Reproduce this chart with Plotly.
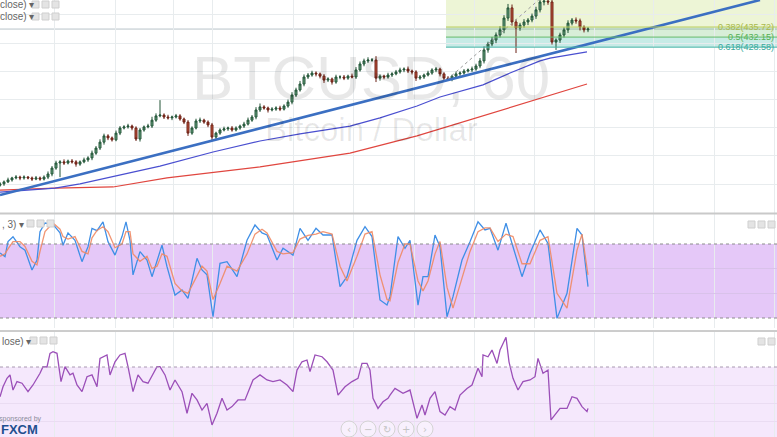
import plotly.graph_objects as go

W, H = 777, 437

# ---------------- DATA ----------------
# hourly BTCUSD candles (bar index = 1 hour step)
closes = [
    380.1, 380.8, 381.5, 382.2, 382.5, 382.2, 382.5, 382.2, 381.8, 382.2,
    381.8, 382.5, 383.6, 385.7, 387.5, 387.9, 387.5, 388.2, 387.9, 387.1,
    387.9, 388.6, 389.3, 391.0, 392.8, 394.9, 397.1, 396.4, 395.7, 398.1,
    399.9, 400.3, 400.6, 399.9, 396.0, 399.2, 400.3, 400.6, 402.7, 404.2,
    404.5, 403.8, 403.5, 403.8, 404.2, 403.1, 402.0, 398.1, 399.9, 402.4,
    402.7, 402.0, 401.0, 396.7, 398.1, 399.2, 399.6, 399.9, 399.2, 399.9,
    400.6, 401.3, 402.7, 403.8, 406.3, 407.4, 407.0, 406.3, 406.6, 407.0,
    406.6, 407.7, 409.1, 411.6, 413.4, 415.5, 418.0, 418.7, 419.4, 419.1,
    418.3, 416.9, 417.3, 416.2, 418.0, 418.0, 417.6, 418.3, 418.0, 420.5,
    422.6, 423.7, 424.0, 424.0, 417.6, 418.3, 418.0, 418.7, 419.1, 419.8,
    420.5, 420.8, 420.1, 419.8, 417.6, 418.0, 418.7, 419.4, 420.5, 420.8,
    419.1, 417.6, 417.3, 418.3, 419.1, 419.4, 420.1, 420.5, 420.8, 421.9,
    423.7, 427.6, 429.7, 431.1, 432.9, 434.7, 438.9, 442.5, 437.5, 435.4,
    436.4, 437.5, 438.2, 439.6, 441.8, 444.6, 444.9, 444.6, 430.4, 431.1,
    432.9, 434.7, 437.1, 438.2, 437.9, 435.7, 434.7, 435.0,
]
first_open = 379.6
wick_hi = [
    0.6, 0.5, 0.8, 0.4, 0.7, 0.5, 0.6, 0.4, 0.5, 0.7,
    0.5, 0.6, 0.9, 0.7, 0.8, 0.6, 0.9, 0.5, 0.7, 0.6,
    0.5, 0.8, 0.6, 0.9, 0.7, 1.0, 0.8, 0.6, 0.5, 0.9,
    0.7, 0.6, 0.8, 0.5, 0.6, 0.7, 0.5, 0.8, 1.2, 0.9,
    5.3, 0.6, 0.8, 0.5, 0.7, 0.6, 0.5, 0.7, 0.6, 0.8,
    0.9, 0.5, 0.6, 0.7, 0.5, 0.6, 0.8, 0.5, 0.7, 0.6,
    0.5, 0.8, 0.9, 0.7, 1.0, 1.2, 0.6, 0.5, 0.7, 0.6,
    0.8, 0.6, 0.9, 1.0, 0.8, 1.1, 0.9, 0.7, 0.8, 0.6,
    0.5, 0.7, 0.6, 0.5, 0.8, 0.6, 0.7, 0.5, 0.9, 1.0,
    0.9, 0.8, 1.0, 0.7, 1.4, 0.6, 0.5, 0.8, 0.6, 0.7,
    0.8, 0.6, 0.9, 0.5, 0.6, 0.7, 0.5, 0.8, 0.6, 0.7,
    0.5, 0.6, 0.7, 0.5, 0.8, 0.6, 0.7, 0.5, 0.9, 0.8,
    1.0, 1.2, 0.8, 1.1, 0.9, 1.3, 1.0, 1.4, 1.2, 0.9,
    0.8, 1.0, 0.7, 0.9, 1.1, 1.0, 0.8, 2.4, 0.9, 0.6,
    0.8, 0.9, 1.0, 0.7, 0.9, 0.8, 0.6, 0.7,
]
wick_lo = [
    0.5, 0.7, 0.4, 0.6, 0.5, 0.8, 0.6, 0.5, 0.7, 0.4,
    0.6, 0.5, 0.7, 0.8, 0.6, 5.0, 0.7, 0.5, 0.6, 0.9,
    0.6, 0.5, 0.7, 0.8, 0.6, 0.7, 0.9, 0.8, 0.6, 0.5,
    0.7, 0.5, 0.6, 0.8, 0.7, 0.9, 0.6, 0.5, 0.7, 0.6,
    0.5, 0.7, 0.6, 0.8, 0.5, 0.6, 0.7, 1.0, 0.6, 0.5,
    0.7, 0.6, 0.8, 1.4, 0.9, 0.6, 0.5, 0.7, 0.6, 0.5,
    0.6, 0.7, 0.5, 0.6, 0.8, 0.7, 0.6, 0.9, 0.5, 0.6,
    0.7, 0.5, 0.6, 0.8, 0.7, 0.6, 0.8, 0.7, 0.6, 0.9,
    0.8, 1.0, 0.7, 0.9, 0.6, 0.8, 0.7, 0.6, 0.5, 0.7,
    0.6, 0.8, 0.7, 0.6, 1.4, 0.9, 0.8, 0.6, 0.7, 0.5,
    0.6, 0.8, 0.7, 0.9, 1.0, 0.6, 0.7, 0.5, 0.6, 0.8,
    0.9, 0.7, 0.6, 0.8, 0.5, 0.7, 0.6, 0.5, 0.7, 0.6,
    0.8, 0.9, 1.0, 0.8, 1.1, 0.9, 1.2, 1.0, 1.3, 8.9,
    1.0, 0.9, 1.1, 0.8, 1.0, 0.9, 1.2, 1.0, 0.9, 2.8,
    1.0, 0.9, 1.1, 0.8, 1.0, 1.2, 0.9, 0.8,
]

# moving averages (sampled points, bar index)
ma100_bar = [0, 7.5, 13.75, 20, 27.5, 40, 53.25, 65, 75, 87.5, 95, 104.25,
             110, 115, 120.75, 127.5, 135, 137.5, 146.75]
ma100_val = [377.2, 377.9, 378.6, 380.1, 382.5, 386.4, 391.4, 395.3, 397.8,
             400.6, 403.5, 407.7, 410.9, 413.0, 415.2, 419.4, 423.7, 424.7, 426.9]
ma200_bar = [0, 13.75, 28.25, 41.75, 65, 87.5, 104.25, 110, 120.75, 127.5,
             133.25, 146.75]
ma200_val = [377.9, 378.6, 379.0, 382.2, 386.1, 391.0, 397.1, 399.6, 404.2,
             407.4, 409.8, 415.5]

# trend line drawing (two anchors)
trend_bar = [0, 190]
trend_val = [376.15, 445.3]

# fibonacci retracement drawing
fib_low_bar, fib_high_bar = 111.75, 136.25
fib_low, fib_high = 417.03, 447.28
fib_ratios = [0.382, 0.5, 0.618]
fib_prices = [435.72, 432.15, 428.58]
fib_labels = ["0.382(435.72)", "0.5(432.15)", "0.618(428.58)"]
hline_price = 435.0

# stochastic (14, 3, 3)
stoch_bar = [
    0, 1.25, 2, 3.25, 5, 6.25, 8, 9.25, 10, 11.25,
    13.25, 15, 15.75, 17, 18.75, 20.5, 22, 23, 24.25, 25.75,
    27, 28.75, 30.5, 31.5, 32.5, 33.25, 35, 36.75, 38, 39.25,
    40.5, 41.75, 43.75, 45.5, 47, 49.25, 50.5, 51.75, 53.25, 55,
    56.75, 59.25, 61.75, 63.75, 65.5, 66.75, 69.25, 70.75, 73.25, 75,
    77, 79, 80.75, 83, 85, 86.75, 89.25, 91.25, 93, 95,
    96.75, 97.5, 99.5, 101.25, 102.5, 104.5, 105.75, 107, 108.75, 110,
    111.75, 113.25, 115.5, 117.5, 119.5, 121.25, 122.5, 124.5, 126.5, 128.25,
    130.5, 132.5, 135, 137, 139.25, 141.75, 144.25, 145.5, 147,
]
stoch_k = [
    72.7, 69.7, 81.9, 85.9, 77.8, 75, 58.9, 67, 90, 97,
    96, 89, 79, 89, 83, 65.7, 77.8, 92.7, 90.8, 98,
    81.9, 71, 86, 98, 83, 55, 73.8, 67, 53.5, 67,
    79, 61.6, 38.6, 42.7, 36, 68.4, 59, 55, 21, 64.3,
    65.7, 53.5, 83, 95.4, 89, 87.3, 67, 76.5, 71, 92.7,
    83, 92.7, 87.3, 87.3, 45.4, 53.5, 83, 94, 86, 34.6,
    30.5, 37.3, 86, 76.5, 83, 30.5, 53.5, 53.5, 87.3, 77.8,
    21, 37.3, 67, 81.9, 98, 91.4, 92.7, 75, 96.8, 77.8,
    53.5, 72.5, 91.4, 80.5, 19.7, 40, 92.7, 87.3, 45.4,
]
stoch_d = [
    70, 72, 76, 82, 82, 78, 66, 63, 74, 90,
    97, 92, 86, 84, 86, 74, 72, 85, 91, 94,
    90, 77, 80, 90, 90, 72, 66, 70, 60, 62,
    72, 70, 48, 42, 40, 55, 62, 58, 35, 48,
    62, 58, 72, 88, 92, 89, 74, 72, 73, 84,
    87, 88, 90, 88, 62, 50, 70, 88, 90, 55,
    35, 34, 65, 80, 80, 50, 42, 50, 72, 82,
    45, 28, 52, 74, 90, 93, 93, 82, 88, 86,
    64, 64, 83, 86, 40, 28, 75, 88, 55,
]

# RSI (14, close)
rsi_bar = [
    0, 0.75, 1.75, 2.5, 3.25, 4.25, 5.5, 7, 8.25, 10,
    10.75, 11.75, 12.5, 13.25, 14.25, 15.25, 16.25, 17.5, 18.25, 19.25,
    20.5, 21.75, 23, 24.25, 25, 26.75, 27.5, 28.75, 30, 31.25,
    32, 33.25, 34.5, 35.75, 37, 39.25, 40, 41.25, 42.5, 43.75,
    45.5, 46.75, 48, 49.25, 50.5, 51.75, 53, 54.25, 55.5, 56.75,
    58, 59.5, 61.25, 63.25, 65, 66.75, 68.25, 70, 71.75, 73.25,
    74.25, 75.5, 76.75, 77.5, 78.75, 80.5, 81.75, 83.25, 84.5, 86.25,
    88, 89.5, 90.5, 91.75, 92.5, 93.25, 94.5, 95.75, 97, 97.5,
    98.75, 100.75, 102.5, 104.25, 105.5, 106.25, 107.5, 108.75, 110, 111.25,
    112.5, 113.75, 115, 116.75, 118, 119.5, 120.5, 120.75, 122, 123,
    124.25, 125, 126.5, 127.25, 128.25, 129.5, 130.75, 132.5, 133.75, 134.5,
    135.75, 137, 137.75, 138.75, 140, 141.75, 143, 144.25, 145.5, 146.75,
    147,
]
rsi_val = [
    53.5, 59, 63.7, 65.6, 57.2, 61.9, 61, 56.3, 60, 66.5,
    70.2, 70, 77.6, 78.5, 77.6, 61.9, 70.2, 65.6, 66.5, 60,
    56.3, 64.6, 65.6, 59, 74.8, 76.7, 65.6, 72.9, 76.7, 77.6,
    70.2, 56.3, 65.6, 61.9, 61, 70.2, 70.2, 65.6, 57.2, 62.8,
    56.3, 44.3, 55.4, 51.7, 46.1, 49.8, 37.8, 44.3, 52.6, 46.1,
    48, 51.7, 51.7, 62.8, 65.6, 62.8, 61.9, 62.8, 60, 56.3,
    68.3, 72.9, 73.9, 67.4, 76.7, 75.7, 72.9, 68.3, 54.4, 59,
    61.9, 63.7, 72, 72, 68.3, 52.6, 47, 50.7, 52.6, 54.4,
    58.1, 55.4, 57.2, 41.5, 48.9, 43.3, 52.6, 56.3, 45.2, 43.3,
    48, 46.1, 54.4, 58.1, 60, 69.3, 64.6, 76.7, 75.7, 79.4,
    72, 79.4, 86.5, 72.9, 63.7, 57.2, 61.9, 62.8, 64.6, 74.8,
    66.5, 68.3, 40.6, 43.3, 47, 47, 53.5, 52.6, 48, 45.2,
    47,
]

grid_bars = [13.5, 28.75, 43.25, 53, 73.25, 88.25, 103.5, 118.5, 133.5,
             148.5, 163.25, 178.5, 193.5]
price_grid = [380, 390, 400, 410, 420, 430, 440]

# ---------------- FIGURE ----------------
bars = list(range(len(closes)))
opens = [first_open] + closes[:-1]
highs = [max(o, c) + w for o, c, w in zip(opens, closes, wick_hi)]
lows = [min(o, c) - w for o, c, w in zip(opens, closes, wick_lo)]

X_MAX = W / 4.0  # 4 px per bar
P_TOP = 445.3
P_BOT = P_TOP - 213 / 2.82


def px(x):
    return x / W


def py(y):
    return 1 - y / H


MAIN_DOM = [py(213), 1.0]


def price_to_paper(p):
    return MAIN_DOM[0] + (p - P_BOT) / (P_TOP - P_BOT) * (MAIN_DOM[1] - MAIN_DOM[0])


fig = go.Figure()

fig.add_trace(go.Candlestick(
    x=bars, open=opens, high=highs, low=lows, close=closes,
    increasing=dict(line=dict(color="#225437", width=1), fillcolor="#6ba583"),
    decreasing=dict(line=dict(color="#6b2015", width=1), fillcolor="#c8563f"),
    whiskerwidth=0, xaxis="x", yaxis="y", hoverinfo="skip"))

fig.add_trace(go.Scatter(x=ma200_bar, y=ma200_val, mode="lines",
                         line=dict(color="#e0463f", width=1.2), xaxis="x", yaxis="y"))
fig.add_trace(go.Scatter(x=ma100_bar, y=ma100_val, mode="lines",
                         line=dict(color="#4a4fd0", width=1.2), xaxis="x", yaxis="y"))
fig.add_trace(go.Scatter(x=[fib_low_bar, fib_high_bar], y=[fib_low, fib_high], mode="lines",
                         line=dict(color="#9a9a9a", width=1, dash="dot"), xaxis="x", yaxis="y"))
fig.add_trace(go.Scatter(x=trend_bar, y=trend_val, mode="lines",
                         line=dict(color="#3b6fc2", width=2.6), xaxis="x", yaxis="y"))

fig.add_trace(go.Scatter(x=stoch_bar, y=stoch_k, mode="lines",
                         line=dict(color="#3f8fe6", width=1.3), xaxis="x", yaxis="y2"))
fig.add_trace(go.Scatter(x=stoch_bar, y=stoch_d, mode="lines",
                         line=dict(color="#f08a64", width=1.3), opacity=0.9, xaxis="x", yaxis="y2"))

fig.add_trace(go.Scatter(x=rsi_bar, y=rsi_val, mode="lines",
                         line=dict(color="#9b4fb8", width=1.3), xaxis="x", yaxis="y3"))

shapes = []
# fib bands
fib_x0 = fib_low_bar - 0.25
fib_fills = ["rgba(175,210,70,0.22)", "rgba(90,185,90,0.24)", "rgba(0,165,140,0.22)"]
band_tops = [fib_high, fib_prices[0], fib_prices[1]]
band_bots = [fib_prices[0], fib_prices[1], fib_prices[2]]
for t, b, c in zip(band_tops, band_bots, fib_fills):
    shapes.append(dict(type="rect", xref="x", yref="y", x0=fib_x0, x1=X_MAX, y0=b, y1=t,
                       fillcolor=c, line=dict(width=0), layer="below"))
fib_line_cols = ["#b8cc5a", "#66bb6a", "#45b3a5"]
for p, c in zip(fib_prices, fib_line_cols):
    shapes.append(dict(type="line", xref="x", yref="y", x0=fib_x0, x1=X_MAX, y0=p, y1=p,
                       line=dict(color=c, width=1)))
# horizontal line drawing
shapes.append(dict(type="line", xref="x domain", yref="y", x0=0, x1=1, y0=hline_price,
                   y1=hline_price, line=dict(color="#b9c3c9", width=1), layer="below"))
# stochastic band
shapes.append(dict(type="rect", xref="x domain", yref="y2", x0=0, x1=1, y0=20, y1=80,
                   fillcolor="#e5c8f8", line=dict(width=0), layer="below"))
for v in (20, 80):
    shapes.append(dict(type="line", xref="x domain", yref="y2", x0=0, x1=1, y0=v, y1=v,
                       line=dict(color="#8c8c8c", width=1, dash="dot")))
# RSI band
shapes.append(dict(type="rect", xref="x domain", yref="y3", x0=0, x1=1, y0=30, y1=70,
                   fillcolor="#f5e8fc", line=dict(width=0), layer="below"))
shapes.append(dict(type="line", xref="x domain", yref="y3", x0=0, x1=1, y0=70, y1=70,
                   line=dict(color="#a898b0", width=1, dash="dot")))
# pane separators
shapes.append(dict(type="line", xref="paper", yref="paper", x0=0, x1=1, y0=py(213.5), y1=py(213.5),
                   line=dict(color="#c9c9c9", width=2)))
shapes.append(dict(type="line", xref="paper", yref="paper", x0=0, x1=1, y0=py(331), y1=py(331),
                   line=dict(color="#9a9a9a", width=1)))


def boxes(x_start, y_top, n=3, size=7, gap=10):
    out = []
    for i in range(n):
        x0 = x_start + i * gap
        out.append(dict(type="rect", xref="paper", yref="paper",
                        x0=px(x0), x1=px(x0 + size), y0=py(y_top + size), y1=py(y_top),
                        fillcolor="#e4e4e4", line=dict(color="#cfcfcf", width=1)))
    return out


shapes += boxes(32, 1)
shapes += boxes(32, 13)
shapes += boxes(27, 220)
shapes += boxes(30, 337)
shapes += boxes(748, 221)
shapes += boxes(758, 338, n=2)

# nav buttons
nav_x = [349, 368, 387, 406, 425]
nav_sym = ["‹", "−", "↻", "+", "›"]
for cx in nav_x:
    shapes.append(dict(type="circle", xref="paper", yref="paper",
                       x0=px(cx - 8), x1=px(cx + 8), y0=py(437), y1=py(421),
                       fillcolor="rgba(255,255,255,0.35)", line=dict(color="#d4d4d4", width=1)))

ann = []
ann.append(dict(text="BTCUSD, 60", x=px(371), y=py(77), xref="paper", yref="paper",
                xanchor="center", yanchor="middle", showarrow=False,
                font=dict(family="Liberation Sans", size=62, color="rgba(0,0,0,0.09)")))
ann.append(dict(text="Bitcoin / Dollar", x=px(371), y=py(130), xref="paper", yref="paper",
                xanchor="center", yanchor="middle", showarrow=False,
                font=dict(family="Liberation Sans", size=33, color="rgba(0,0,0,0.09)")))
fib_lab_cols = ["#a9b94a", "#55b055", "#38a89b"]
for p, lab, c in zip(fib_prices, fib_labels, fib_lab_cols):
    ann.append(dict(text=lab, x=px(776), y=price_to_paper(p), xref="paper", yref="paper",
                    xanchor="right", yanchor="middle", showarrow=False,
                    font=dict(family="Liberation Sans", size=9, color=c)))

leg_font = dict(family="Liberation Sans", size=10, color="#666666")
for txt, x0, y0 in [("close) ▾", -2, 5), ("close) ▾", -2, 17), (", 3) ▾", 0, 224),
                    ("lose) ▾", 0, 341)]:
    ann.append(dict(text=txt, x=px(x0), y=py(y0), xref="paper", yref="paper",
                    xanchor="left", yanchor="middle", showarrow=False, font=leg_font))

ann.append(dict(text="sponsored by", x=px(-3), y=py(419), xref="paper", yref="paper",
                xanchor="left", yanchor="middle", showarrow=False,
                font=dict(family="Liberation Sans", size=7, color="#8a8a9a")))
ann.append(dict(text="<b>FXCM</b>", x=px(-1), y=py(429), xref="paper", yref="paper",
                xanchor="left", yanchor="middle", showarrow=False,
                font=dict(family="Liberation Sans", size=13, color="#1f4f8f")))
for cx, s in zip(nav_x, nav_sym):
    ann.append(dict(text=s, x=px(cx), y=py(429), xref="paper", yref="paper",
                    xanchor="center", yanchor="middle", showarrow=False,
                    font=dict(family="DejaVu Sans", size=10, color="#c4c4c4")))

grid_col = "#e8ecee"
fig.update_layout(
    width=W, height=H, margin=dict(l=0, r=0, t=0, b=0, autoexpand=False),
    paper_bgcolor="white", plot_bgcolor="white", showlegend=False,
    xaxis=dict(range=[0, X_MAX], domain=[0, 1], tickvals=grid_bars, showticklabels=False,
               showgrid=True, gridcolor=grid_col, zeroline=False, showline=False,
               rangeslider=dict(visible=False), ticks=""),
    yaxis=dict(domain=MAIN_DOM, range=[P_BOT, P_TOP], tickvals=price_grid,
               showticklabels=False, showgrid=True, gridcolor=grid_col, zeroline=False),
    yaxis2=dict(domain=[py(328), py(214)], range=[20 - 10 / 1.2333, 80 + 30 / 1.2333],
                tickvals=[40, 60], showticklabels=False, showgrid=True, gridcolor="#d9c2ea",
                zeroline=False),
    yaxis3=dict(domain=[0, py(332)], range=[70 - 70 / 1.8, 70 + 35 / 1.8],
                tickvals=[40, 50, 60], showticklabels=False, showgrid=True,
                gridcolor="#eadcf2", zeroline=False),
    shapes=shapes, annotations=ann, hovermode=False,
)

fig.write_html("out.html", config=dict(displayModeBar=False, staticPlot=True),
               post_script="document.body.style.margin='0';document.body.style.overflow='hidden';")
